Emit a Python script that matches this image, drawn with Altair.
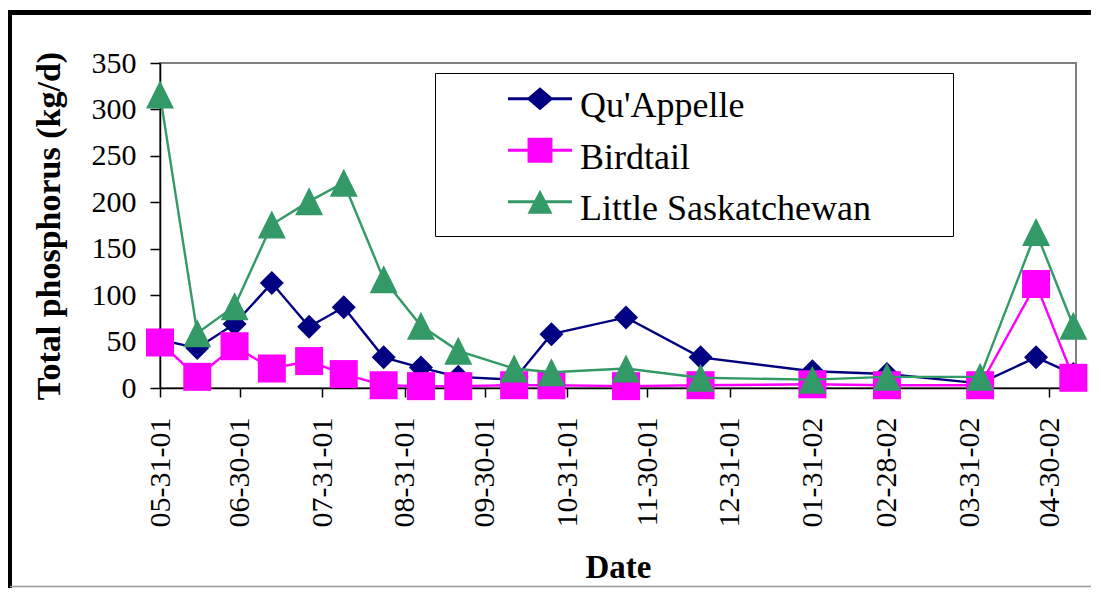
import altair as alt
import pandas as pd

# ---------------- data ----------------
dates = ["2001-05-31", "2001-06-14", "2001-06-28", "2001-07-12", "2001-07-26",
         "2001-08-08", "2001-08-23", "2001-09-06", "2001-09-20", "2001-10-11",
         "2001-10-25", "2001-11-22", "2001-12-20", "2002-01-31", "2002-02-28",
         "2002-04-04", "2002-04-25", "2002-05-09"]
quappelle = [52, 43, 69, 113, 66, 87, 33, 22, 12, 9, 58, 76, 33, 18, 15, 5, 33, 15]
birdtail = [49, 12, 45, 21, 29, 15, 3, 2, 2, 3, 3, 2, 3, 4, 3, 3, 112, 11]
little_sask = [316, 59, 88, 176, 201, 221, 117, 67, 40, 21, 17, 21, 11, 9, 12, 12, 168, 67]

series_names = ["Qu'Appelle", "Birdtail", "Little Saskatchewan"]
series_colors = ["#000080", "#FF00FF", "#339966"]
tick_dates = [(2001, 5, 31), (2001, 6, 30), (2001, 7, 31), (2001, 8, 31),
              (2001, 9, 30), (2001, 10, 31), (2001, 11, 30), (2001, 12, 31),
              (2002, 1, 31), (2002, 2, 28), (2002, 3, 31), (2002, 4, 30)]
y_ticks = [0, 50, 100, 150, 200, 250, 300, 350]

rows = []
for name, vals in zip(series_names, [quappelle, birdtail, little_sask]):
    for d, v in zip(dates, vals):
        rows.append({"date": d, "value": v, "series": name})
df = pd.DataFrame(rows)
legend_df = pd.DataFrame({"series": series_names})

FONT = "Liberation Serif"

color_scale = alt.Scale(domain=series_names, range=series_colors)

x_enc = alt.X(
    "date:T",
    scale=alt.Scale(type="utc",
                    domain=[alt.DateTime(year=2001, month=5, date=31, utc=True),
                            alt.DateTime(year=2002, month=5, date=10, utc=True)]),
    axis=alt.Axis(values=[alt.DateTime(year=y, month=m, date=d, utc=True) for (y, m, d) in tick_dates],
                  format="%m-%d-%y", labelAngle=-90, labelFontSize=30, labelPadding=20,
                  tickSize=9, titleFontSize=33, titleFontWeight="bold", titlePadding=25,
                  labelFlush=False, labelOverlap=False),
    title="Date",
)
y_enc = alt.Y(
    "value:Q",
    scale=alt.Scale(domain=[0, 350], nice=False),
    axis=alt.Axis(values=y_ticks, labelFontSize=30, labelPadding=14, tickSize=10,
                  titleFontSize=34, titleFontWeight="bold", titlePadding=25),
    title="Total phosphorus (kg/d)",
)

# marker shapes on the plot
tri_path = "M0,-1L1,1L-1,1Z"
point_shapes = {"Qu'Appelle": ("diamond", 576),
                "Birdtail": ("square", 784),
                "Little Saskatchewan": (tri_path, 784)}

# legend symbols: a line with the marker on it (unit box, shifted up)
dy = -0.3
t = 0.06
L = 1.333
line_part = f"M{-L},{dy - t}H{L}V{dy + t}H{-L}Z"
legend_paths = [
    line_part + f"M0,{dy - 0.48}L0.56,{dy}L0,{dy + 0.48}L-0.56,{dy}Z",
    line_part + f"M-0.52,{dy - 0.52}H0.52V{dy + 0.52}H-0.52Z",
    line_part + f"M0,{dy - 0.5}L0.52,{dy + 0.5}L-0.52,{dy + 0.5}Z",
]

leg = alt.Legend(
    title="\u00a0", titleOrient="right", titlePadding=73, titleFontSize=1,
    orient="none", legendX=275, legendY=10, direction="vertical",
    fillColor="white", strokeColor="black", padding=9, cornerRadius=0,
    rowPadding=9.5, symbolOffset=72, labelOffset=16, symbolSize=2304, symbolStrokeWidth=0,
    symbolOpacity=1,
    labelFont=FONT, labelFontSize=36, labelColor="black", labelLimit=800,
)
# first layer: carries the legend (its own marks are invisible)
legend_layer = alt.Chart(legend_df).mark_point(
    filled=True, opacity=0, size=2304, strokeWidth=0).encode(
    color=alt.Color("series:N", scale=color_scale, legend=leg),
    shape=alt.Shape("series:N", scale=alt.Scale(domain=series_names, range=legend_paths), legend=leg),
)

layers = [legend_layer]
for name in series_names:
    base = alt.Chart(df).transform_filter(alt.datum.series == name)
    line = base.mark_line(strokeWidth=2.4).encode(
        x=x_enc, y=y_enc,
        color=alt.Color("series:N", scale=color_scale, legend=None))
    shp, sz = point_shapes[name]
    pts = base.mark_point(filled=True, opacity=1, shape=shp, size=sz, strokeWidth=0).encode(
        x=x_enc, y=y_enc,
        color=alt.Color("series:N", scale=color_scale, legend=None))
    layers += [line, pts]

# outer frame (decoration)
frame_src = pd.DataFrame({"k": [0]})
top_bar = alt.Chart(frame_src).mark_rule(color="black", strokeWidth=5).encode(
    x=alt.value(-152), x2=alt.value(935), y=alt.value(-50.5))
left_bar = alt.Chart(frame_src).mark_rule(color="black", strokeWidth=5).encode(
    x=alt.value(-150.5), y=alt.value(-53), y2=alt.value(525))
bottom_line = alt.Chart(frame_src).mark_rule(color="#999999", strokeWidth=1.5).encode(
    x=alt.value(-150), x2=alt.value(935), y=alt.value(523.5))

chart = alt.layer(*layers, top_bar, left_bar, bottom_line).properties(
    width=916, height=325,
    autosize=alt.AutoSizeParams(type="none"),
    padding={"left": 152, "top": 55, "right": 15, "bottom": 200},
    background="white",
).configure_axis(
    grid=False, domainColor="black", domainWidth=1.5, tickColor="black", tickWidth=1.5,
    labelFont=FONT, titleFont=FONT, labelColor="black", titleColor="black",
).configure_legend(
    labelFont=FONT, labelFontSize=36, labelColor="black", labelLimit=800,
).configure_view(
    stroke="#808080", strokeWidth=2,
)

chart.save("out.html", embed_options={"renderer": "svg", "actions": False})
